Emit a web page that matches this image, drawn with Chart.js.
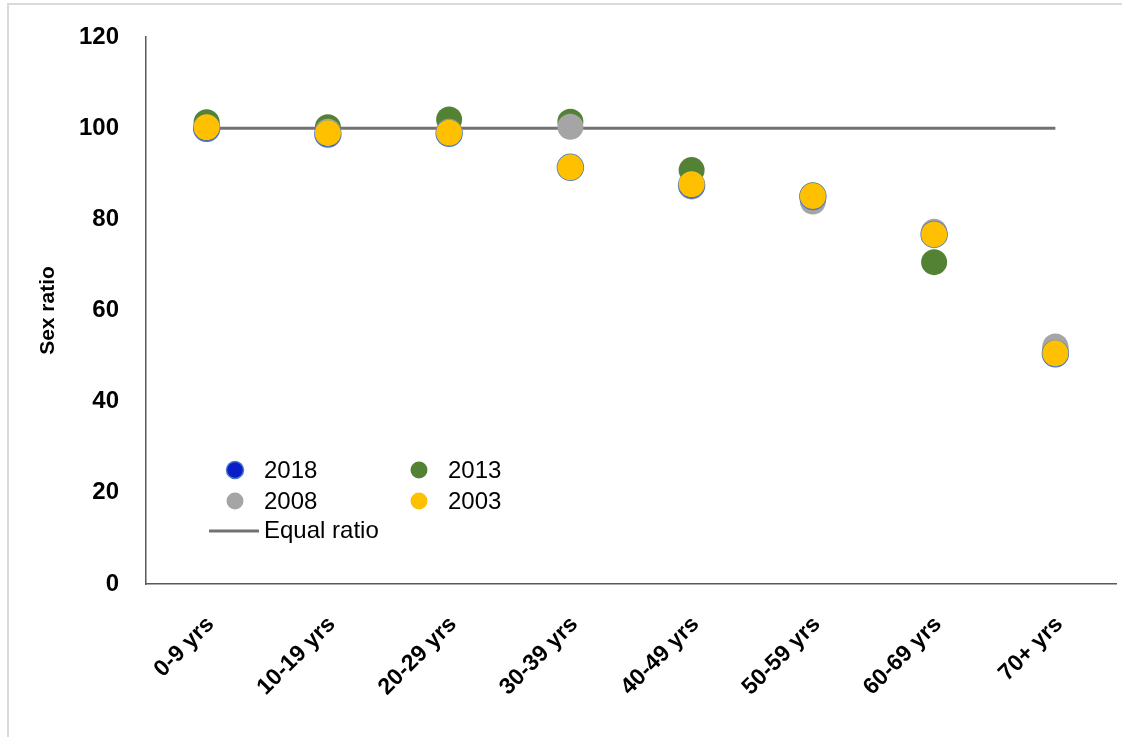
<!DOCTYPE html>
<html>
<head>
<meta charset="utf-8">
<script src="https://cdn.jsdelivr.net/npm/chart.js@4/dist/chart.umd.min.js"></script>
<style>
  html, body { margin: 0; padding: 0; background: #ffffff; }
  #wrap { position: relative; width: 1122px; height: 737px; overflow: hidden; }
  #frame { position: absolute; left: 7px; top: 3px; right: 0; bottom: 0;
           border-top: 2px solid #dadada; border-left: 2px solid #dadada; }
  canvas { position: absolute; left: 0; top: 0; }
</style>
</head>
<body>
<div id="wrap">
  <div id="frame"></div>
  <canvas id="chart" width="1122" height="737"></canvas>
</div>
<script>
// Age groups on the horizontal axis
const categories = ['0-9 yrs', '10-19 yrs', '20-29 yrs', '30-39 yrs', '40-49 yrs', '50-59 yrs', '60-69 yrs', '70+ yrs'];

// Sex ratio (males per 100 females) by survey year
const ratio2018 = [100.0, 98.7, 98.9, 91.4, 87.5, 85.0, 76.7, 50.5];
const ratio2013 = [101.3, 100.2, 101.9, 101.4, 90.8, 85.3, 70.6, 51.5];
const ratio2008 = [99.8, 99.2, 99.2, 100.3, 87.2, 83.9, 77.3, 52.1];
const ratio2003 = [100.2, 98.9, 99.0, 91.4, 87.7, 85.1, 76.7, 50.6];

// Reference line where males equal females
const equalRatio = [100, 100, 100, 100, 100, 100, 100, 100];

// Value axis ticks
const yTicks = [0, 20, 40, 60, 80, 100, 120];

const FONT = "'Liberation Sans', Arial, sans-serif";

function pointSeries(label, data, fill, border, borderWidth, order) {
  return {
    type: 'line', label, data, order,
    showLine: false,
    pointRadius: 13, pointHoverRadius: 13,
    pointBackgroundColor: fill, backgroundColor: fill,
    pointBorderColor: border, borderColor: border,
    pointBorderWidth: borderWidth
  };
}

// Legend drawn inside the plot area, two columns of markers plus the line entry
const insideLegend = {
  id: 'insideLegend',
  afterDraw(chart) {
    const ctx = chart.ctx;
    const ds = chart.data.datasets;
    const entries = [
      { i: 0, x: 235, y: 470 },
      { i: 1, x: 419, y: 470 },
      { i: 2, x: 235, y: 501 },
      { i: 3, x: 419, y: 501 }
    ];
    ctx.save();
    ctx.font = '24px ' + FONT;
    ctx.textBaseline = 'middle';
    ctx.textAlign = 'left';
    entries.forEach(e => {
      const d = ds[e.i];
      ctx.beginPath();
      ctx.arc(e.x, e.y, 8.5, 0, Math.PI * 2);
      ctx.fillStyle = d.pointBackgroundColor;
      ctx.fill();
      if (d.pointBorderWidth > 0) {
        ctx.lineWidth = 1.5;
        ctx.strokeStyle = d.pointBorderColor;
        ctx.stroke();
      }
      ctx.fillStyle = '#000000';
      ctx.fillText(d.label, e.x + 29, e.y + 1);
    });
    const line = ds[4];
    ctx.beginPath();
    ctx.moveTo(209, 531);
    ctx.lineTo(259, 531);
    ctx.lineWidth = 3;
    ctx.strokeStyle = line.borderColor;
    ctx.stroke();
    ctx.fillStyle = '#000000';
    ctx.fillText(line.label, 264, 531);
    ctx.restore();
  }
};

new Chart(document.getElementById('chart'), {
  type: 'line',
  data: {
    labels: categories,
    datasets: [
      pointSeries('2018', ratio2018, '#0a1ec8', '#4a78cc', 1.5, 1),
      pointSeries('2013', ratio2013, '#548235', '#548235', 0, 3),
      pointSeries('2008', ratio2008, '#a5a5a5', '#a5a5a5', 0, 2),
      pointSeries('2003', ratio2003, '#ffc000', '#ffc000', 0, 0),
      {
        type: 'line', label: 'Equal ratio', data: equalRatio, order: 5,
        borderColor: '#767171', backgroundColor: '#767171',
        borderWidth: 3, pointRadius: 0, pointHoverRadius: 0, fill: false, tension: 0
      }
    ]
  },
  options: {
    responsive: false,
    animation: false,
    events: [],
    layout: { autoPadding: false, padding: { left: 0, right: 6, top: 37, bottom: 0 } },
    plugins: {
      legend: { display: false },
      tooltip: { enabled: false },
      title: { display: false }
    },
    scales: {
      x: {
        type: 'category',
        offset: true,
        grid: { display: true, drawOnChartArea: false, drawTicks: false, color: 'rgba(0,0,0,0)' },
        border: { display: true, color: '#595959', width: 1.5 },
        ticks: {
          autoSkip: false, maxRotation: 45, minRotation: 45,
          padding: 27, labelOffset: 4, color: '#000000',
          font: { family: FONT, size: 23, weight: 'bold' }
        },
        afterFit(scale) {
          scale.height = 153;
          scale.paddingLeft = 0;
          scale.paddingRight = 0;
        }
      },
      y: {
        min: 0, max: 120,
        afterBuildTicks(scale) { scale.ticks = yTicks.map(v => ({ value: v })); },
        grid: { display: true, drawOnChartArea: false, drawTicks: false, color: 'rgba(0,0,0,0)' },
        border: { display: true, color: '#595959', width: 1.5 },
        ticks: {
          padding: 27, color: '#000000',
          font: { family: FONT, size: 24, weight: 'bold' }
        },
        title: {
          display: true, text: 'Sex ratio', color: '#000000',
          font: { family: FONT, size: 21, weight: 'bold' },
          padding: { top: 36, bottom: 0 }
        },
        afterFit(scale) {
          scale.width = 146;
          scale.paddingTop = 0;
          scale.paddingBottom = 0;
        }
      }
    }
  },
  plugins: [insideLegend]
});
</script>
</body>
</html>
